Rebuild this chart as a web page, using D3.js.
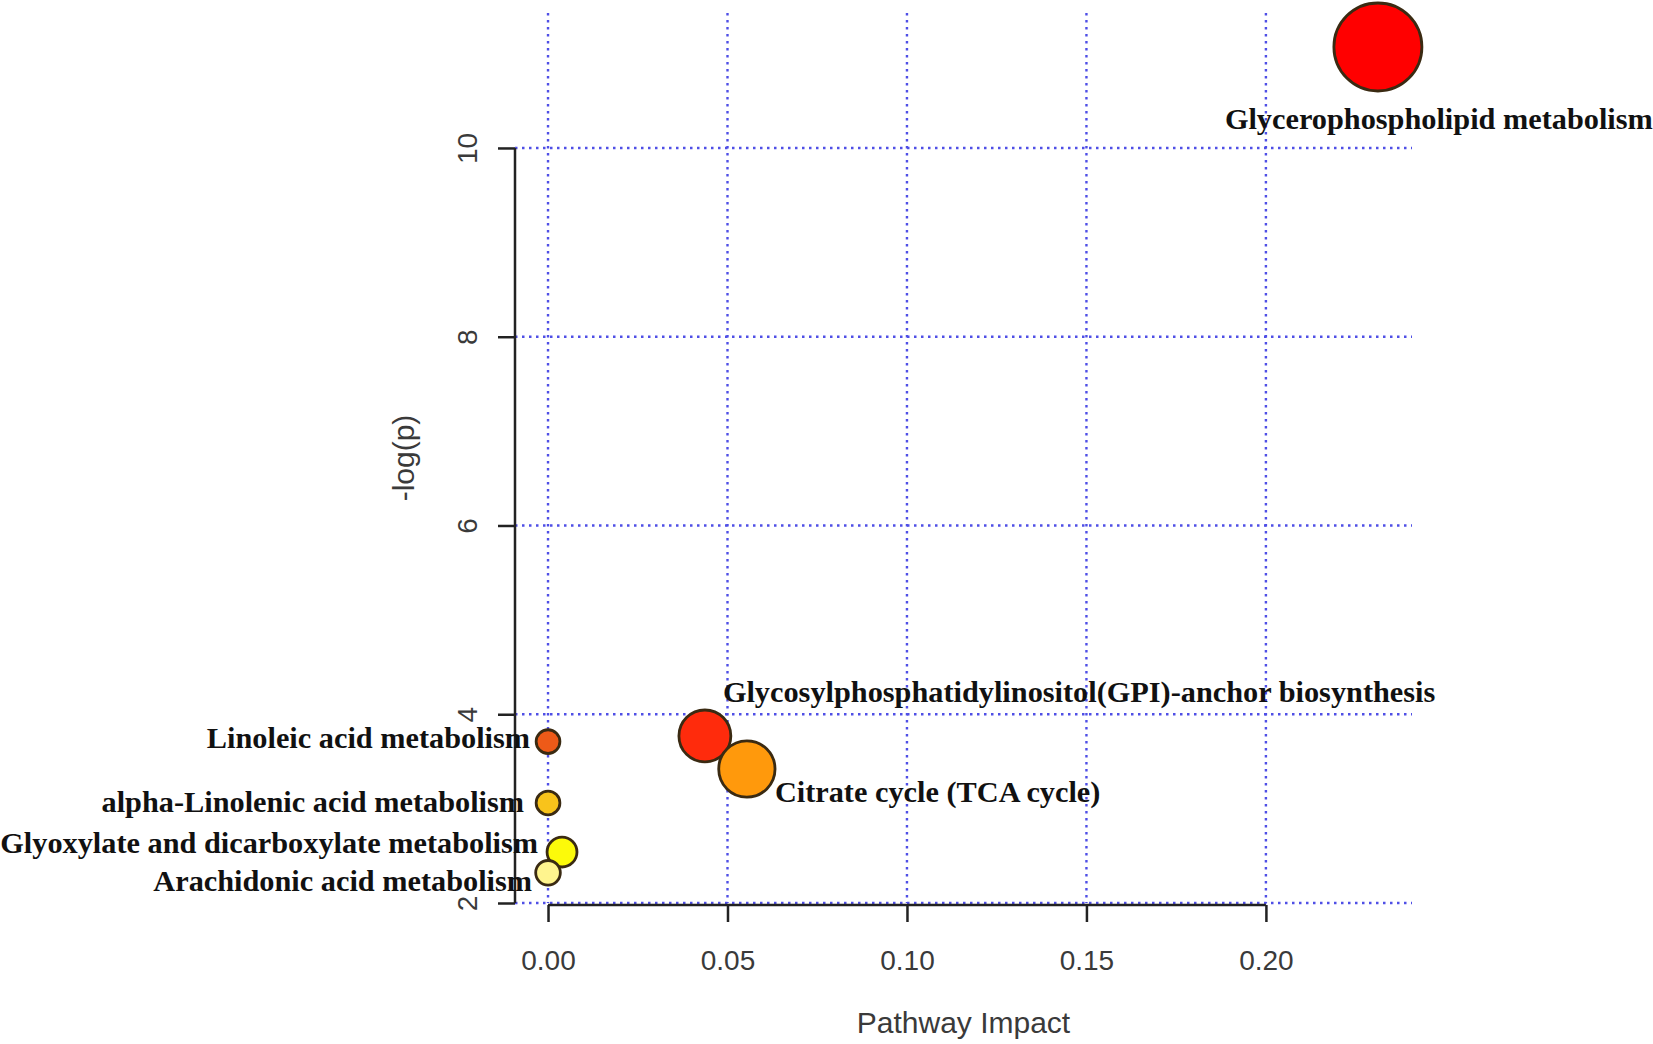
<!DOCTYPE html>
<html>
<head>
<meta charset="utf-8">
<script src="https://cdn.jsdelivr.net/npm/d3@7"></script>
<style>
  body { margin: 0; background: #fff; }
  svg { display: block; }
</style>
</head>
<body>
<div id="chart"></div>
<script>
// pathway data, ordered by p value (most significant first)
const pathways = [
  "Glycerophospholipid metabolism",
  "Glycosylphosphatidylinositol(GPI)-anchor biosynthesis",
  "Linoleic acid metabolism",
  "Citrate cycle (TCA cycle)",
  "alpha-Linolenic acid metabolism",
  "Glyoxylate and dicarboxylate metabolism",
  "Arachidonic acid metabolism"
];
const impact = [0.2312, 0.0437, 0.0, 0.0554, 0.0, 0.0039, 0.0];
const negLogP = [11.07, 3.77, 3.71, 3.42, 3.06, 2.54, 2.32];
const nodeSize = [1.0, 0.59, 0.27, 0.64, 0.27, 0.34, 0.28];

const xTicks = [0, 0.05, 0.10, 0.15, 0.20];
const yTicks = [2, 4, 6, 8, 10];

// heat colours by significance rank
const heat = ["#ff0000", "#ff2b0c", "#ee5a18", "#ff990c", "#f8c31b", "#fcfa0a", "#fff48e"];

// label placement relative to the circle centre (px)
const labelLayout = {
  "Glycerophospholipid metabolism": { anchor: "start", dx: -153, dy: 82 },
  "Glycosylphosphatidylinositol(GPI)-anchor biosynthesis": { anchor: "start", dx: 18, dy: -34 },
  "Linoleic acid metabolism": { anchor: "end", dx: -18, dy: 6 },
  "Citrate cycle (TCA cycle)": { anchor: "start", dx: 28, dy: 33 },
  "alpha-Linolenic acid metabolism": { anchor: "end", dx: -24, dy: 9 },
  "Glyoxylate and dicarboxylate metabolism": { anchor: "end", dx: -24, dy: 1 },
  "Arachidonic acid metabolism": { anchor: "end", dx: -16, dy: 18 }
};

const W = 1653, H = 1044;
const plot = { left: 515, right: 1412, top: 13, bottom: 903 };

const data = pathways.map((name, i) => ({
  name, impact: impact[i], p: negLogP[i], size: nodeSize[i], rank: i
}));

const svg = d3.select("#chart").append("svg")
  .attr("width", W)
  .attr("height", H);

svg.append("rect").attr("width", W).attr("height", H).attr("fill", "#fff");

const x = d3.scaleLinear().domain([-0.0092, 0.2407]).range([plot.left, plot.right]);
const y = d3.scaleLinear().domain([2, 11.43]).range([plot.bottom, plot.top]);
const r = d3.scaleLinear().domain([0, 1]).range([0, 44]);

// dotted blue grid
const gridStyle = g => g
  .attr("stroke", "#4f4fe6")
  .attr("stroke-width", 2.4)
  .attr("stroke-dasharray", "2.5,4.5")
  .attr("fill", "none");

svg.append("g").call(gridStyle)
  .selectAll("line")
  .data(xTicks)
  .join("line")
  .attr("x1", d => x(d)).attr("x2", d => x(d))
  .attr("y1", plot.top).attr("y2", plot.bottom);

svg.append("g").call(gridStyle)
  .selectAll("line")
  .data(yTicks)
  .join("line")
  .attr("x1", plot.left).attr("x2", plot.right)
  .attr("y1", d => y(d)).attr("y2", d => y(d));

// axes
const axisColor = "#222";
const tickFont = "'Liberation Sans', Arial, sans-serif";

const yAxis = svg.append("g")
  .attr("transform", `translate(${plot.left},0)`)
  .call(d3.axisLeft(y).tickValues(yTicks).tickSize(17).tickFormat(d3.format("d")));
yAxis.select(".domain").remove();
yAxis.append("line")
  .attr("y1", y(10)).attr("y2", y(2))
  .attr("stroke", axisColor).attr("stroke-width", 2.5);
yAxis.selectAll(".tick line").attr("stroke", axisColor).attr("stroke-width", 2.5);
yAxis.selectAll(".tick text")
  .attr("x", null).attr("dy", null)
  .attr("transform", "translate(-38,0) rotate(-90)")
  .attr("text-anchor", "middle")
  .style("font-family", tickFont)
  .style("font-size", "28px")
  .attr("fill", "#3a3a3a");

const xAxis = svg.append("g")
  .attr("transform", `translate(0,${plot.bottom + 2})`)
  .call(d3.axisBottom(x).tickValues(xTicks).tickSize(17).tickFormat(d3.format(".2f")));
xAxis.select(".domain").remove();
xAxis.append("line")
  .attr("x1", x(0)).attr("x2", x(0.20))
  .attr("stroke", axisColor).attr("stroke-width", 2.5);
xAxis.selectAll(".tick line").attr("stroke", axisColor).attr("stroke-width", 2.5);
xAxis.selectAll(".tick text")
  .attr("y", 65).attr("dy", null)
  .style("font-family", tickFont)
  .style("font-size", "28px")
  .attr("fill", "#3a3a3a");

// axis titles
svg.append("text")
  .attr("x", (plot.left + plot.right) / 2)
  .attr("y", 1033)
  .attr("text-anchor", "middle")
  .style("font-family", tickFont)
  .style("font-size", "30px")
  .attr("fill", "#3a3a3a")
  .text("Pathway Impact");

svg.append("text")
  .attr("transform", `translate(414,${(plot.top + plot.bottom) / 2}) rotate(-90)`)
  .attr("text-anchor", "middle")
  .style("font-family", tickFont)
  .style("font-size", "30px")
  .attr("fill", "#3a3a3a")
  .text("-log(p)");

// bubbles
svg.append("g")
  .selectAll("circle")
  .data(data)
  .join("circle")
  .attr("cx", d => x(d.impact))
  .attr("cy", d => y(d.p))
  .attr("r", d => r(d.size))
  .attr("fill", d => heat[d.rank])
  .attr("stroke", "#3a2a12")
  .attr("stroke-width", 2.8);

// labels
svg.append("g")
  .selectAll("text")
  .data(data)
  .join("text")
  .attr("x", d => x(d.impact) + labelLayout[d.name].dx)
  .attr("y", d => y(d.p) + labelLayout[d.name].dy)
  .attr("text-anchor", d => labelLayout[d.name].anchor)
  .style("font-family", "'Liberation Serif', 'Times New Roman', serif")
  .style("font-weight", "bold")
  .style("font-size", "30.3px")
  .attr("fill", "#111")
  .text(d => d.name);
</script>
</body>
</html>
